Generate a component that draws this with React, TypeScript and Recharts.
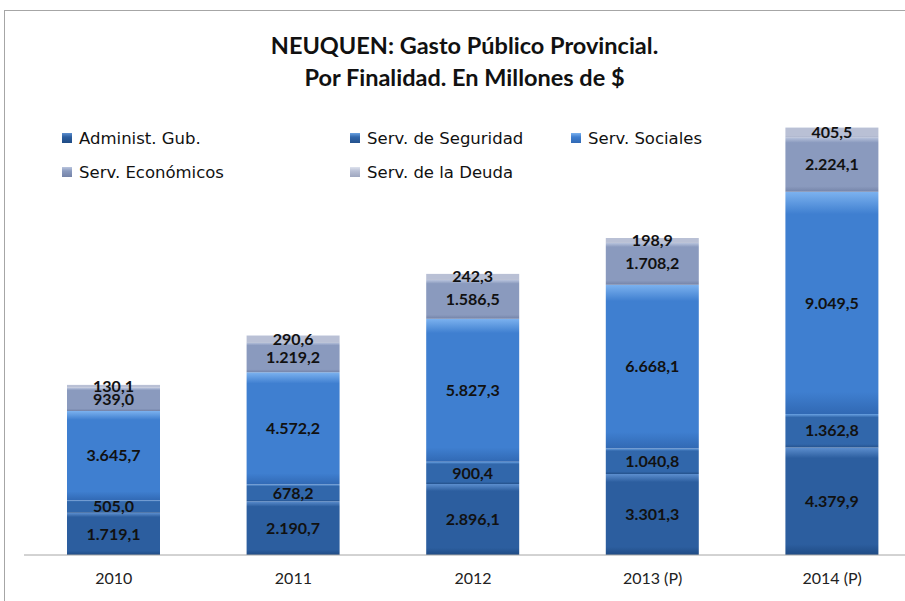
import React from "react";
import { BarChart, Bar, XAxis, YAxis, LabelList } from "recharts";

const years = ["2010", "2011", "2012", "2013 (P)", "2014 (P)"];
const administ = [1719.1, 2190.7, 2896.1, 3301.3, 4379.9];
const seguridad = [505.0, 678.2, 900.4, 1040.8, 1362.8];
const sociales = [3645.7, 4572.2, 5827.3, 6668.1, 9049.5];
const economicos = [939.0, 1219.2, 1586.5, 1708.2, 2224.1];
const deuda = [130.1, 290.6, 242.3, 198.9, 405.5];

const series = [
  { key: "administ", name: "Administ. Gub.", hi: "#5d8fcf", base: "#2c5e9f", low: "#1f4b84" },
  { key: "seguridad", name: "Serv. de Seguridad", hi: "#6aa2e2", base: "#3167ab", low: "#25528d" },
  { key: "sociales", name: "Serv. Sociales", hi: "#7cb2ef", base: "#3f7fd0", low: "#3169b4" },
  { key: "economicos", name: "Serv. Económicos", hi: "#bac5de", base: "#8a9abe", low: "#7483a8" },
  { key: "deuda", name: "Serv. de la Deuda", hi: "#dfe3ee", base: "#b9c0d5", low: "#9ea7c0" },
];

const data = years.map((y, i) => ({
  year: y,
  administ: administ[i],
  seguridad: seguridad[i],
  sociales: sociales[i],
  economicos: economicos[i],
  deuda: deuda[i],
}));

// formato es-AR: 1.719,1
function fmt(v: number): string {
  const [ent, dec] = v.toFixed(1).split(".");
  return ent.replace(/\B(?=(\d{3})+(?!\d))/g, ".") + "," + dec;
}

const legendWidths = [288, 221, 200, 288, 220];

function LegendBox() {
  return (
    <div style={{ display: "flex", flexWrap: "wrap", width: 720, rowGap: 12 }}>
      {series.map((s, i) => (
        <div
          key={s.key}
          style={{
            width: legendWidths[i],
            display: "flex",
            alignItems: "center",
            fontFamily: "'DejaVu Sans', sans-serif",
            fontSize: 16.5,
            color: "#111",
            height: 22,
          }}
        >
          <span
            style={{
              width: 10,
              height: 10,
              marginRight: 7,
              background: `linear-gradient(to bottom, ${s.hi}, ${s.base} 40%, ${s.low})`,
            }}
          />
          {s.name}
        </div>
      ))}
    </div>
  );
}

export default function App() {
  return (
    <div style={{ position: "fixed", left: 0, top: 0, width: 905, height: 601, overflow: "hidden", background: "#fff" }}>
      <div
        style={{
          position: "absolute",
          left: 4,
          top: 10,
          width: 1000,
          height: 800,
          border: "1px solid #a6a6a6",
        }}
      />
      <div
        style={{
          position: "absolute",
          left: 4,
          width: 921,
          top: 29,
          textAlign: "center",
          fontFamily: "Lato, 'Open Sans', sans-serif",
          fontWeight: 700,
          fontSize: 23.5,
          lineHeight: "32px",
          color: "#111",
        }}
      >
        NEUQUEN: Gasto Público Provincial.
        <br />
        Por Finalidad. En Millones de $
      </div>
      <div style={{ position: "absolute", left: 0, top: 0 }}>
        <BarChart
          width={940}
          height={601}
          data={data}
          margin={{ top: 64, right: 18, left: 24, bottom: 16 }}
        >
          <defs>
            {series.map((s) => (
              <linearGradient key={s.key} id={"g-" + s.key} x1="0" y1="0" x2="0" y2="1">
                <stop offset="0%" stopColor={s.hi} />
                <stop offset="10%" stopColor={s.base} />
                <stop offset="90%" stopColor={s.base} />
                <stop offset="100%" stopColor={s.low} />
              </linearGradient>
            ))}
          </defs>
          <XAxis
            dataKey="year"
            height={30}
            axisLine={{ stroke: "#a6a6a6" }}
            tickLine={false}
            tick={{ fill: "#222", fontSize: 16, fontFamily: "Lato, sans-serif" }}
            dy={10}
          />
          <YAxis hide domain={[0, 20000]} />
          {series.map((s) => (
            <Bar
              key={s.key}
              dataKey={s.key}
              name={s.name}
              stackId="a"
              barSize={93}
              fill={`url(#g-${s.key})`}
              isAnimationActive={false}
            >
              <LabelList
                dataKey={s.key}
                position="center"
                formatter={(v: any) => fmt(Number(v))}
                style={{ fill: "#111", fontSize: 16, fontWeight: 700, fontFamily: "Lato, sans-serif" }}
              />
            </Bar>
          ))}
        </BarChart>
      </div>
      <div style={{ position: "absolute", left: 62, top: 127 }}>
        <LegendBox />
      </div>
    </div>
  );
}
